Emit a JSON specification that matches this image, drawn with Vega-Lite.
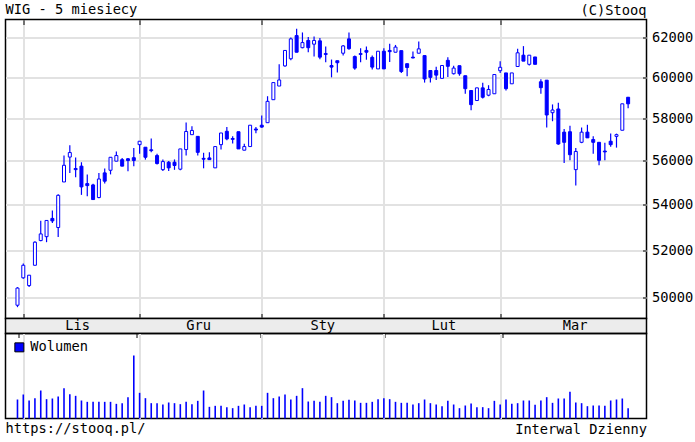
{
  "$schema": "https://vega.github.io/schema/vega-lite/v6.json",
  "autosize": {"type": "pad"},
  "padding": {"left": 4.5, "top": 2.5, "right": 3, "bottom": 5},
  "background": "white",
  "title": {"text": "WIG - 5 miesiecy", "anchor": "start", "frame": "group", "offset": -14},
  "config": {
    "font": "DejaVu Sans Mono",
    "view": {"stroke": "#000000", "strokeWidth": 1.5},
    "axis": {"minExtent": 0, "maxExtent": 200, "labelFont": "DejaVu Sans Mono", "labelFontSize": 13.7, "labelColor": "#000000", "titleFont": "DejaVu Sans Mono", "titleFontSize": 13.7, "titleFontWeight": "normal", "titleColor": "#000000", "gridColor": "#e2e2e2", "gridWidth": 2, "tickColor": "#000000", "domain": false},
    "title": {"font": "DejaVu Sans Mono", "fontSize": 13.7, "fontWeight": "normal", "color": "#000000"},
    "legend": {"labelFont": "DejaVu Sans Mono", "labelFontSize": 13.7, "labelColor": "#000000"}
  },
  "datasets": {
    "candles": [
      {"d":"2022-10-31","i":0,"o":49700,"h":50450,"l":49620,"c":50410,"v":1140},
      {"d":"2022-11-02","i":1,"o":50840,"h":51450,"l":50800,"c":51370,"v":1440},
      {"d":"2022-11-03","i":2,"o":50515,"h":50960,"l":50450,"c":50950,"v":1080},
      {"d":"2022-11-04","i":3,"o":51370,"h":52400,"l":51370,"c":52360,"v":1220},
      {"d":"2022-11-07","i":4,"o":52430,"h":53300,"l":52400,"c":52720,"v":1680},
      {"d":"2022-11-08","i":5,"o":52600,"h":53320,"l":52360,"c":53310,"v":1160},
      {"d":"2022-11-09","i":6,"o":53400,"h":53750,"l":53200,"c":53290,"v":1200},
      {"d":"2022-11-10","i":7,"o":53000,"h":54480,"l":52590,"c":54430,"v":1320},
      {"d":"2022-11-14","i":8,"o":55035,"h":56250,"l":55035,"c":55800,"v":1820},
      {"d":"2022-11-15","i":9,"o":56180,"h":56730,"l":55450,"c":56390,"v":1460},
      {"d":"2022-11-16","i":10,"o":55650,"h":56160,"l":55250,"c":55600,"v":1360},
      {"d":"2022-11-17","i":11,"o":55760,"h":55940,"l":54450,"c":54810,"v":1080},
      {"d":"2022-11-18","i":12,"o":54960,"h":55370,"l":54390,"c":54870,"v":1000},
      {"d":"2022-11-21","i":13,"o":54900,"h":54950,"l":54230,"c":54240,"v":1000},
      {"d":"2022-11-22","i":14,"o":54330,"h":55450,"l":54300,"c":55170,"v":1000},
      {"d":"2022-11-23","i":15,"o":55450,"h":55650,"l":54960,"c":55070,"v":1000},
      {"d":"2022-11-24","i":16,"o":55570,"h":56180,"l":55380,"c":56170,"v":1000},
      {"d":"2022-11-25","i":17,"o":55990,"h":56440,"l":55990,"c":56250,"v":880},
      {"d":"2022-11-28","i":18,"o":56060,"h":56140,"l":55760,"c":55760,"v":920},
      {"d":"2022-11-29","i":19,"o":56100,"h":56140,"l":55530,"c":56020,"v":1280},
      {"d":"2022-11-30","i":20,"o":56150,"h":56600,"l":55750,"c":56020,"v":3780},
      {"d":"2022-12-01","i":21,"o":56760,"h":56920,"l":56330,"c":56920,"v":1540},
      {"d":"2022-12-02","i":22,"o":56640,"h":56640,"l":56060,"c":56170,"v":1220},
      {"d":"2022-12-05","i":23,"o":56520,"h":57050,"l":56400,"c":56480,"v":920},
      {"d":"2022-12-06","i":24,"o":56250,"h":56330,"l":55830,"c":55880,"v":920},
      {"d":"2022-12-07","i":25,"o":55600,"h":56070,"l":55540,"c":55970,"v":840},
      {"d":"2022-12-08","i":26,"o":55940,"h":56000,"l":55540,"c":55680,"v":960},
      {"d":"2022-12-09","i":27,"o":55940,"h":56070,"l":55590,"c":55790,"v":920},
      {"d":"2022-12-12","i":28,"o":55620,"h":56560,"l":55570,"c":56560,"v":860},
      {"d":"2022-12-13","i":29,"o":56530,"h":57810,"l":56250,"c":57380,"v":1000},
      {"d":"2022-12-14","i":30,"o":57230,"h":57630,"l":57230,"c":57430,"v":860},
      {"d":"2022-12-15","i":31,"o":57150,"h":57150,"l":56250,"c":56400,"v":1060},
      {"d":"2022-12-16","i":32,"o":56120,"h":56380,"l":55660,"c":56080,"v":1680},
      {"d":"2022-12-19","i":33,"o":56140,"h":56400,"l":56060,"c":56060,"v":700},
      {"d":"2022-12-20","i":34,"o":55680,"h":56670,"l":55680,"c":56670,"v":760},
      {"d":"2022-12-21","i":35,"o":56760,"h":57310,"l":56530,"c":57310,"v":760},
      {"d":"2022-12-22","i":36,"o":57390,"h":57590,"l":56970,"c":57030,"v":680},
      {"d":"2022-12-23","i":37,"o":57050,"h":57150,"l":56810,"c":57010,"v":620},
      {"d":"2022-12-27","i":38,"o":57370,"h":57370,"l":56560,"c":56560,"v":760},
      {"d":"2022-12-28","i":39,"o":56500,"h":56800,"l":56500,"c":56670,"v":840},
      {"d":"2022-12-29","i":40,"o":56670,"h":57680,"l":56670,"c":57680,"v":680},
      {"d":"2022-12-30","i":41,"o":57500,"h":57600,"l":57300,"c":57450,"v":760},
      {"d":"2023-01-02","i":42,"o":57680,"h":58150,"l":57560,"c":57590,"v":760},
      {"d":"2023-01-03","i":43,"o":57800,"h":59080,"l":57800,"c":58830,"v":1540},
      {"d":"2023-01-04","i":44,"o":58910,"h":59750,"l":58910,"c":59750,"v":1220},
      {"d":"2023-01-05","i":45,"o":59580,"h":60660,"l":59580,"c":59880,"v":1320},
      {"d":"2023-01-09","i":46,"o":60580,"h":61360,"l":60540,"c":61360,"v":1440},
      {"d":"2023-01-10","i":47,"o":60940,"h":62020,"l":60870,"c":61950,"v":1140},
      {"d":"2023-01-11","i":48,"o":62120,"h":62470,"l":61270,"c":61270,"v":1360},
      {"d":"2023-01-12","i":49,"o":61500,"h":62280,"l":61470,"c":61760,"v":1820},
      {"d":"2023-01-13","i":50,"o":61870,"h":62040,"l":61270,"c":61500,"v":1020},
      {"d":"2023-01-16","i":51,"o":61680,"h":62070,"l":61050,"c":61870,"v":1060},
      {"d":"2023-01-17","i":52,"o":61850,"h":62000,"l":60920,"c":61020,"v":1000},
      {"d":"2023-01-18","i":53,"o":61200,"h":61560,"l":60760,"c":61160,"v":1360},
      {"d":"2023-01-19","i":54,"o":60600,"h":60900,"l":60010,"c":60520,"v":1280},
      {"d":"2023-01-20","i":55,"o":60840,"h":60840,"l":60250,"c":60740,"v":920},
      {"d":"2023-01-23","i":56,"o":61220,"h":61640,"l":61110,"c":61590,"v":1060},
      {"d":"2023-01-24","i":57,"o":61950,"h":62280,"l":61400,"c":61450,"v":1120},
      {"d":"2023-01-25","i":58,"o":61050,"h":61100,"l":60390,"c":60470,"v":1080},
      {"d":"2023-01-26","i":59,"o":61200,"h":61470,"l":60770,"c":61160,"v":940},
      {"d":"2023-01-27","i":60,"o":61360,"h":61560,"l":60890,"c":61270,"v":940},
      {"d":"2023-01-30","i":61,"o":61010,"h":61100,"l":60400,"c":60520,"v":1000},
      {"d":"2023-01-31","i":62,"o":60430,"h":61320,"l":60430,"c":61320,"v":1160},
      {"d":"2023-02-01","i":63,"o":61320,"h":61470,"l":60430,"c":60430,"v":1220},
      {"d":"2023-02-02","i":64,"o":61360,"h":61700,"l":60780,"c":61300,"v":1160},
      {"d":"2023-02-03","i":65,"o":61270,"h":61640,"l":61270,"c":61530,"v":1000},
      {"d":"2023-02-06","i":66,"o":61350,"h":61350,"l":60220,"c":60300,"v":940},
      {"d":"2023-02-07","i":67,"o":60690,"h":60690,"l":60070,"c":60500,"v":940},
      {"d":"2023-02-08","i":68,"o":61020,"h":61310,"l":60960,"c":60980,"v":840},
      {"d":"2023-02-09","i":69,"o":61220,"h":61820,"l":61220,"c":61440,"v":920},
      {"d":"2023-02-10","i":70,"o":61100,"h":61100,"l":59750,"c":59930,"v":1140},
      {"d":"2023-02-13","i":71,"o":60350,"h":60350,"l":59750,"c":60010,"v":920},
      {"d":"2023-02-14","i":72,"o":60350,"h":60540,"l":59880,"c":60120,"v":840},
      {"d":"2023-02-15","i":73,"o":59960,"h":60600,"l":59960,"c":60600,"v":740},
      {"d":"2023-02-16","i":74,"o":60860,"h":61020,"l":60030,"c":60560,"v":1060},
      {"d":"2023-02-17","i":75,"o":60190,"h":60590,"l":60150,"c":60470,"v":840},
      {"d":"2023-02-20","i":76,"o":60590,"h":60590,"l":60090,"c":60190,"v":620},
      {"d":"2023-02-21","i":77,"o":60090,"h":60090,"l":59200,"c":59450,"v":780},
      {"d":"2023-02-22","i":78,"o":59360,"h":59360,"l":58400,"c":58670,"v":900},
      {"d":"2023-02-23","i":79,"o":58870,"h":59490,"l":58870,"c":59490,"v":680},
      {"d":"2023-02-24","i":80,"o":59490,"h":59740,"l":58970,"c":59030,"v":680},
      {"d":"2023-02-27","i":81,"o":59130,"h":59620,"l":59080,"c":59410,"v":620},
      {"d":"2023-02-28","i":82,"o":59200,"h":60150,"l":59200,"c":60150,"v":1060},
      {"d":"2023-03-01","i":83,"o":60340,"h":60810,"l":60220,"c":60510,"v":840},
      {"d":"2023-03-02","i":84,"o":60230,"h":60230,"l":59360,"c":59450,"v":1140},
      {"d":"2023-03-03","i":85,"o":59690,"h":60230,"l":59690,"c":60230,"v":880},
      {"d":"2023-03-06","i":86,"o":60550,"h":61440,"l":60550,"c":61240,"v":920},
      {"d":"2023-03-07","i":87,"o":61120,"h":61580,"l":60820,"c":60820,"v":1080},
      {"d":"2023-03-08","i":88,"o":60660,"h":61120,"l":60600,"c":61120,"v":1080},
      {"d":"2023-03-09","i":89,"o":61030,"h":61030,"l":60660,"c":60660,"v":820},
      {"d":"2023-03-10","i":90,"o":59790,"h":59910,"l":59200,"c":59500,"v":1080},
      {"d":"2023-03-13","i":91,"o":59870,"h":59870,"l":57570,"c":58170,"v":1280},
      {"d":"2023-03-14","i":92,"o":58280,"h":58680,"l":57870,"c":58410,"v":940},
      {"d":"2023-03-15","i":93,"o":58460,"h":58760,"l":56760,"c":56790,"v":1200},
      {"d":"2023-03-16","i":94,"o":57350,"h":57500,"l":55910,"c":56870,"v":1200},
      {"d":"2023-03-17","i":95,"o":57370,"h":57650,"l":56030,"c":56290,"v":1600},
      {"d":"2023-03-20","i":96,"o":55600,"h":56600,"l":54870,"c":56440,"v":960},
      {"d":"2023-03-21","i":97,"o":56870,"h":57570,"l":56830,"c":57350,"v":920},
      {"d":"2023-03-22","i":98,"o":57350,"h":57700,"l":57080,"c":57080,"v":740},
      {"d":"2023-03-23","i":99,"o":57000,"h":57150,"l":56340,"c":56870,"v":780},
      {"d":"2023-03-24","i":100,"o":56870,"h":56870,"l":55800,"c":56030,"v":780},
      {"d":"2023-03-27","i":101,"o":56460,"h":56850,"l":56030,"c":56420,"v":760},
      {"d":"2023-03-28","i":102,"o":56920,"h":57280,"l":56660,"c":56760,"v":1080},
      {"d":"2023-03-29","i":103,"o":57150,"h":57280,"l":56620,"c":57230,"v":1140},
      {"d":"2023-03-30","i":104,"o":57440,"h":58710,"l":57440,"c":58710,"v":1200},
      {"d":"2023-03-31","i":105,"o":59030,"h":59030,"l":58500,"c":58710,"v":620}
    ],
    "months": [
      {"m":"Lis","c":11},
      {"m":"Gru","c":31.5},
      {"m":"Sty","c":52.5},
      {"m":"Lut","c":73},
      {"m":"Mar","c":95.2}
    ]
  },
  "spacing": 0,
  "bounds": "flush",
  "resolve": {"scale": {"color": "independent"}, "legend": {"color": "independent"}},
  "vconcat": [
    {
      "width": 641,
      "height": 299,
      "data": {"name": "candles"},
      "title": {"text": "(C)Stooq", "anchor": "end", "frame": "group", "offset": 1.5},
      "layer": [
        {
          "mark": {"type": "rule", "color": "#0000ff", "strokeWidth": 1.2},
          "encoding": {
            "x": {"field": "i", "type": "quantitative", "scale": {"domain": [-1.2, 107.3], "nice": false, "zero": false},
                  "axis": {"orient": "top", "values": [1, 21, 42, 63, 83], "labels": false, "title": null, "grid": true, "ticks": true, "tickSize": -5, "domain": false}},
            "y": {"field": "l", "type": "quantitative", "scale": {"type": "log", "domain": [49157, 62951], "nice": false, "zero": false},
                  "axis": {"orient": "right", "values": [50000, 52000, 54000, 56000, 58000, 60000, 62000], "format": "d", "grid": true, "tickSize": -4, "labelPadding": 9, "title": null}},
            "y2": {"field": "h"}
          }
        },
        {
          "mark": {"type": "bar", "size": 3, "stroke": "#0000ff", "strokeWidth": 1},
          "encoding": {
            "x": {"field": "i", "type": "quantitative", "scale": {"domain": [-1.2, 107.3], "nice": false, "zero": false},
                  "axis": {"orient": "bottom", "values": [1, 21, 42, 63, 83], "labels": false, "title": null, "grid": false, "tickSize": -5, "domain": false}},
            "y": {"field": "o", "type": "quantitative"},
            "y2": {"field": "c"},
            "fill": {"condition": {"test": "datum.c > datum.o", "value": "#ffffff"}, "value": "#0000ff"}
          }
        }
      ],
      "resolve": {"axis": {"x": "independent"}}
    },
    {
      "width": 641,
      "height": 15,
      "data": {"name": "months"},
      "view": {"fill": "#ececec", "stroke": "#000000", "strokeWidth": 1.5},
      "mark": {"type": "text", "font": "DejaVu Sans Mono", "fontSize": 13.7, "color": "#000000", "baseline": "middle"},
      "encoding": {
        "x": {"field": "c", "type": "quantitative", "scale": {"domain": [-1.2, 107.3], "nice": false, "zero": false},
              "axis": {"orient": "bottom", "values": [1, 21, 42, 63, 83], "labels": false, "title": null, "grid": false, "tickSize": 4, "domain": false}},
        "text": {"field": "m"}
      }
    },
    {
      "width": 641,
      "height": 85,
      "data": {"name": "candles"},
      "title": {"text": "https://stooq.pl/", "orient": "bottom", "anchor": "start", "frame": "group", "offset": -14},
      "mark": {"type": "bar", "size": 1.6},
      "encoding": {
        "x": {"field": "i", "type": "quantitative", "scale": {"domain": [-1.2, 107.3], "nice": false, "zero": false},
              "axis": {"orient": "bottom", "values": [1, 21, 42, 63, 83], "labels": false, "ticks": false, "grid": true, "domain": false, "title": "Interwal Dzienny", "titleAnchor": "end", "titlePadding": 4}},
        "y": {"field": "v", "type": "quantitative", "scale": {"domain": [0, 5100], "nice": false}, "axis": null},
        "color": {"datum": "Wolumen", "type": "nominal", "scale": {"range": ["#0000ff"]},
                  "legend": {"orient": "top-left", "title": null, "symbolType": "square", "symbolSize": 81, "symbolStrokeColor": "#000000", "symbolStrokeWidth": 1, "offset": 7, "padding": 0, "labelOffset": 4}}
      }
    }
  ]
}
